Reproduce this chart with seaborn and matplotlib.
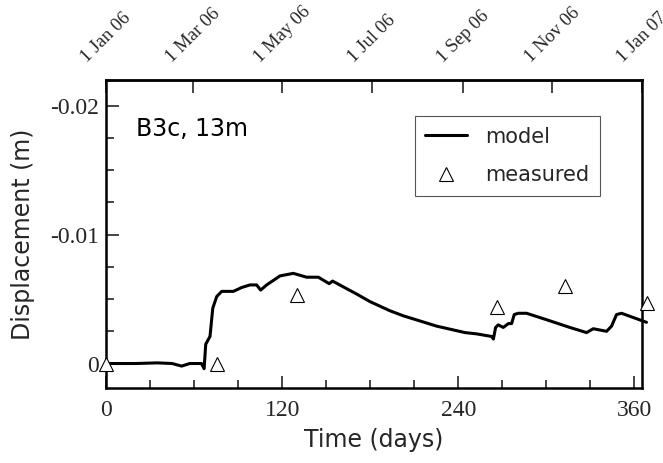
import matplotlib
matplotlib.use("Agg")
import matplotlib.pyplot as plt
import seaborn as sns
import pandas as pd
from matplotlib.ticker import MultipleLocator

# ---- data ----
model_days = [0, 20, 35, 45, 51.5, 57, 65, 66.8, 67.9, 70.8, 72.7, 75.4, 78.8, 86.7,
              92.4, 98, 102.6, 105.3, 109.4, 118.5, 127.6, 136.6, 144.6, 152, 154.3,
              170.6, 179.9, 193.3, 202.6, 225.3, 244.6, 252.5, 262.7, 263.9, 265.4,
              267.2, 270.6, 274.1, 276.3, 278.1, 280.8, 286.5, 300.1, 316, 327.4,
              331.9, 341, 344.4, 347.8, 351.2, 368.2]
model_disp = [0, 0, -0.00005, 0, 0.0002, 0, 0, 0.0004, -0.0015, -0.0021, -0.0043,
              -0.0052, -0.0056, -0.0056, -0.0059, -0.0061, -0.0061, -0.0057, -0.0061,
              -0.0068, -0.0070, -0.0067, -0.0067, -0.0062, -0.0064, -0.0054, -0.0048,
              -0.0041, -0.0037, -0.0029, -0.0024, -0.0023, -0.0021, -0.0019, -0.0028,
              -0.0030, -0.0028, -0.0031, -0.0031, -0.0038, -0.0039, -0.0039, -0.0034,
              -0.0028, -0.0024, -0.0027, -0.0025, -0.0029, -0.0038, -0.0039, -0.0032]
meas_days = [0, 75.8, 129.9, 266.4, 312.5, 368.6]
meas_disp = [0, 0, -0.0053, -0.0044, -0.0060, -0.0047]

date_ticks = [0, 59, 120, 181, 243, 304, 365]
date_labels = ["1 Jan 06", "1 Mar 06", "1 May 06", "1 Jul 06", "1 Sep 06", "1 Nov 06", "1 Jan 07"]
x_ticks = [0, 120, 240, 360]
y_ticks = [0, -0.01, -0.02]
y_labels = ["0", "-0.01", "-0.02"]

sns.set_style("ticks")
plt.rcParams["font.family"] = ["DejaVu Sans"]

fig = plt.figure(figsize=(6.63, 4.63), dpi=100)
ax = fig.add_axes([0.160, 0.162, 0.808, 0.665])

model_df = pd.DataFrame({"day": model_days, "disp": model_disp})
meas_df = pd.DataFrame({"day": meas_days, "disp": meas_disp})

sns.lineplot(data=model_df, x="day", y="disp", ax=ax, color="black", linewidth=2.2,
             label="model", clip_on=False, zorder=3)
ax.plot(meas_df["day"], meas_df["disp"], linestyle="none", marker="^", markersize=9.5,
        markerfacecolor="white", markeredgecolor="black", markeredgewidth=0.8,
        label="measured", clip_on=False, zorder=4)

ax.set_xlim(0, 365)
ax.set_ylim(0.0019, -0.022)

serif = "Liberation Serif"
ax.set_xticks(x_ticks)
ax.set_xticklabels([str(t) for t in x_ticks], fontfamily=serif, fontsize=17)
ax.xaxis.set_minor_locator(MultipleLocator(30))
ax.set_yticks(y_ticks)
ax.set_yticklabels(y_labels, fontfamily=serif, fontsize=17)
ax.yaxis.set_minor_locator(MultipleLocator(0.0025))

ax.tick_params(axis="both", which="major", direction="in", length=9, width=1.2,
               top=False, right=False, pad=5)
ax.tick_params(axis="both", which="minor", direction="in", length=6, width=1.2,
               top=False, right=False)
ax.tick_params(axis="x", which="major", pad=9)

for s in ax.spines.values():
    s.set_linewidth(1.8)
    s.set_color("black")

ax.set_xlabel("Time (days)", fontsize=17, labelpad=5)
ax.set_ylabel("Displacement (m)", fontsize=17, labelpad=11)

sec = ax.secondary_xaxis("top")
sec.set_xticks(date_ticks)
sec.set_xticklabels(date_labels, fontfamily=serif, fontsize=13.5, rotation=45,
                    ha="center", va="bottom")
sec.tick_params(direction="in", length=9, width=1.2, pad=10)
sec.spines["top"].set_linewidth(1.8)

ax.text(0.055, 0.817, "B3c, 13m", transform=ax.transAxes, fontsize=17, color="black")

leg = ax.legend(loc="upper left", bbox_to_anchor=(0.5765, 0.883), fontsize=15,
                frameon=True, fancybox=False, framealpha=1, edgecolor="#555555",
                handlelength=2.0, handletextpad=0.87, labelspacing=0.9,
                borderpad=0.5, borderaxespad=0)
leg.get_frame().set_linewidth(0.8)

fig.savefig("out.png", dpi=100)
